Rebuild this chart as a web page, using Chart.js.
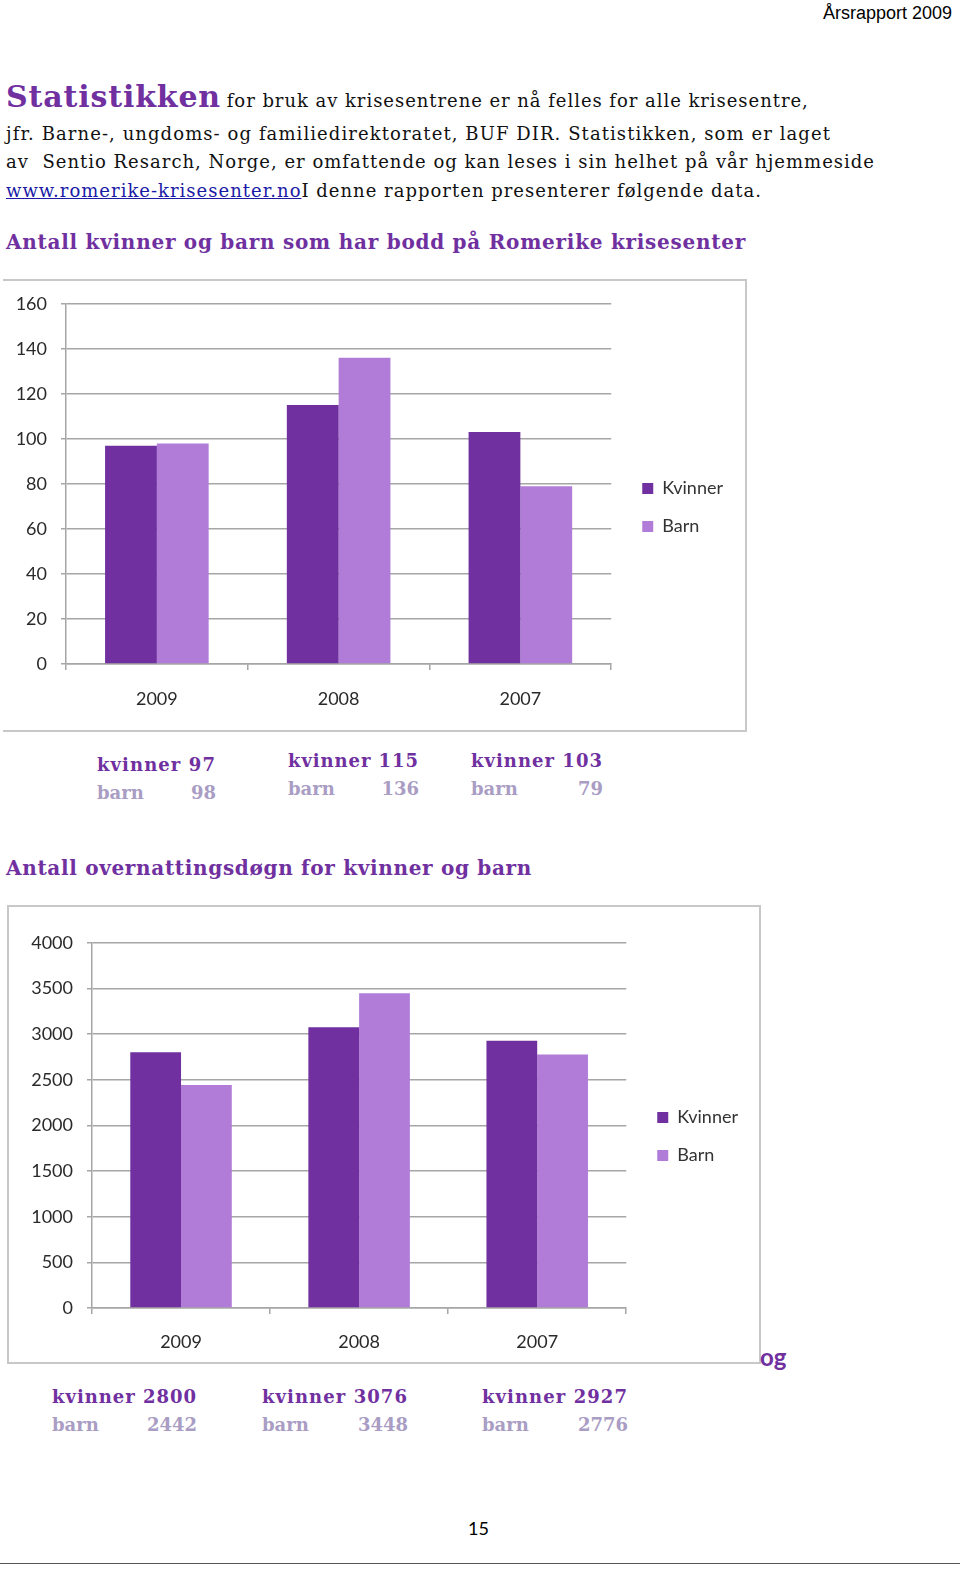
<!DOCTYPE html>
<html>
<head>
<meta charset="utf-8">
<script src="https://cdn.jsdelivr.net/npm/chart.js@4.4.1/dist/chart.umd.min.js"></script>
<style>
  body { margin: 0; background: #fff; }
  #page { position: relative; width: 960px; height: 1571px; overflow: hidden; font-family: "DejaVu Serif", serif; color: #111; }
  .t { position: absolute; white-space: nowrap; }
  .body { font-size: 18px; line-height: 20px; }
  .big { font-size: 30px; font-weight: bold; color: #7030A0; }
  .head { font-size: 20px; line-height: 22px; font-weight: bold; color: #7030A0; }
  .frame { position: absolute; border: 2px solid #c8c8c8; box-sizing: border-box; }
  .box { position: absolute; }
  .sum { position: absolute; font-size: 18px; line-height: 28px; font-weight: bold; white-space: nowrap; }
  .sum .k { color: #7030A0; display: inline-block; }
  .sum .b { color: #a99dc4; display: flex; justify-content: space-between; }
  a { color: #1a1aa6; }
</style>
</head>
<body>
<div id="page">
  <div class="t" style="right:8px;top:3px;font-family:'Liberation Sans',Arial,sans-serif;font-size:18px;line-height:20px;color:#000;">Årsrapport 2009</div>

  <div class="t body" style="left:6px;top:87px;"><span class="big fit" data-w="215">Statistikken</span> <span class="fit" data-w="582">for bruk av krisesentrene er nå felles for alle krisesentre,</span></div>
  <div class="t body fit" data-w="825" style="left:6px;top:124px;">jfr. Barne-, ungdoms- og familiedirektoratet, BUF DIR. Statistikken, som er laget</div>
  <div class="t body fit" data-w="869" style="left:6px;top:152px;">av&nbsp; Sentio Resarch, Norge, er omfattende og kan leses i sin helhet på vår hjemmeside</div>
  <div class="t body fit" data-w="756" style="left:6px;top:181px;"><a href="#">www.romerike-krisesenter.no</a>I denne rapporten presenterer følgende data.</div>

  <div class="t head fit" data-w="740" style="left:6px;top:231px;">Antall kvinner og barn som har bodd på Romerike krisesenter</div>

  <div class="frame" style="left:3px;top:279px;width:744px;height:453px;border-left:none;"></div>
  <div class="box" style="left:5px;top:279px;width:740px;height:446px;"><canvas id="c1"></canvas></div>

  <div class="t head fit" data-w="526" style="left:6px;top:857px;">Antall overnattingsdøgn for kvinner og barn</div>

  <div class="frame" style="left:7px;top:905px;width:754px;height:459px;"></div>
  <div class="box" style="left:10px;top:918px;width:748px;height:438px;"><canvas id="c2"></canvas></div>

  <div class="t" style="left:760px;top:1343px;font-family:Lato,sans-serif;font-weight:bold;font-size:24px;line-height:28px;color:#7030A0;">og</div>

  <div class="t" style="left:468px;top:1517px;font-family:Lato,sans-serif;font-size:18px;line-height:22px;color:#000;">15</div>
  <div style="position:absolute;left:0;top:1563px;width:960px;height:1px;background:#555;"></div>
</div>

<script>
const years = ['2009', '2008', '2007'];
const seriesNames = ['Kvinner', 'Barn'];
const kvinnerBodd = [97, 115, 103];
const barnBodd = [98, 136, 79];
const kvinnerDogn = [2800, 3076, 2927];
const barnDogn = [2442, 3448, 2776];

const colKvinner = '#7030A0';
const colBarn = '#B07CD8';
const gridCol = '#a6a6a6';

// lets the legend sit a bit further from the plot, like the original
const legendShift = {
  id: 'legendShift',
  afterLayout(chart, args, opts) {
    const l = chart.legend;
    if (!l) return;
    l.left += opts.dx; l.right += opts.dx;
    l.top += opts.dy; l.bottom += opts.dy;
  }
};

function makeChart(id, kv, ba, max, step, cfg) {
  const ctx = document.getElementById(id).getContext('2d');
  return new Chart(ctx, {
    type: 'bar',
    data: {
      labels: years,
      datasets: [
        { label: seriesNames[0], data: kv, backgroundColor: colKvinner, barPercentage: 1, categoryPercentage: 0.57 },
        { label: seriesNames[1], data: ba, backgroundColor: colBarn, barPercentage: 1, categoryPercentage: 0.57 }
      ]
    },
    plugins: [legendShift],
    options: {
      responsive: true,
      maintainAspectRatio: false,
      animation: false,
      layout: { padding: { top: cfg.padTop, right: cfg.padRight, bottom: 0, left: 0 } },
      plugins: {
        tooltip: { enabled: false },
        legendShift: { dx: cfg.dx, dy: cfg.dy },
        legend: {
          position: 'right',
          labels: {
            boxWidth: 11, boxHeight: 11, padding: 20,
            color: '#333',
            font: { family: 'Lato', size: 18 }
          }
        }
      },
      scales: {
        x: {
          grid: { display: true, drawOnChartArea: false, drawTicks: true, tickLength: 6, color: gridCol, lineWidth: 1.5 },
          border: { color: gridCol, width: 1.5 },
          ticks: { color: '#2a2a2a', padding: cfg.xPad, font: { family: 'Lato', size: 18 } },
          afterFit: s => { s.height = cfg.xHeight; }
        },
        y: {
          min: 0, max: max,
          grid: { color: gridCol, lineWidth: 1.5, tickLength: 5 },
          border: { color: gridCol, width: 1.5 },
          ticks: { stepSize: step, color: '#2a2a2a', padding: 14, font: { family: 'Lato', size: 18 }, callback: v => String(v) },
          afterFit: s => { s.width = cfg.yWidth; }
        }
      }
    }
  });
}

makeChart('c1', kvinnerBodd, barnBodd, 160, 20, { padTop: 11, padRight: 23, xHeight: 61, xPad: 18, yWidth: 61, dx: 11, dy: 0 });
makeChart('c2', kvinnerDogn, barnDogn, 4000, 500, { padTop: 17, padRight: 21, xHeight: 48, xPad: 17, yWidth: 82, dx: 11, dy: -9 });

// small value summaries under each chart
function summary(kv, ba, spots) {
  const page = document.getElementById('page');
  spots.forEach((p, i) => {
    const d = document.createElement('div');
    d.className = 'sum';
    d.style.left = p[0] + 'px';
    d.style.top = p[1] + 'px';
    d.innerHTML = '<div class="k fit" data-w="' + p[2] + '">kvinner ' + kv[i] + '</div><div class="b"><span>barn</span><span>' + ba[i] + '</span></div>';
    page.appendChild(d);
  });
}
summary(kvinnerBodd, barnBodd, [[97, 751, 119], [288, 747, 131], [471, 747, 132]]);
summary(kvinnerDogn, barnDogn, [[52, 1383, 145], [262, 1383, 146], [482, 1383, 146]]);

// stretch text runs to the widths of the original page
document.querySelectorAll('.fit').forEach(el => {
  const n = el.textContent.length;
  const w = el.getBoundingClientRect().width;
  el.style.letterSpacing = ((+el.dataset.w - w) / n) + 'px';
});
</script>
</body>
</html>
